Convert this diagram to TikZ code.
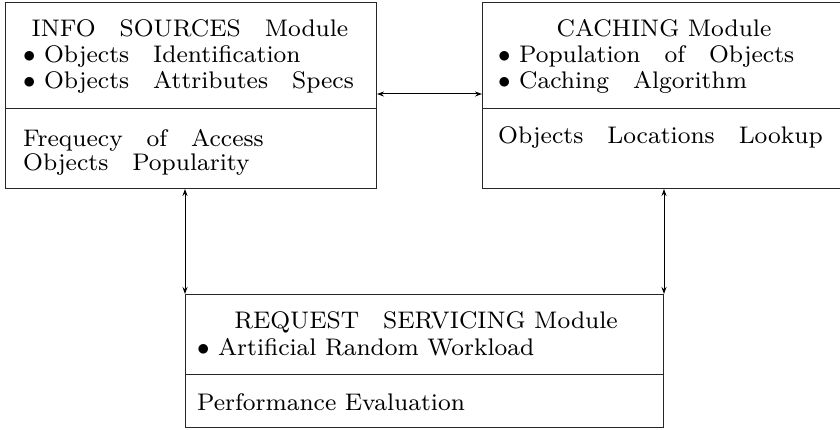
\documentclass[tikz,border=0pt]{standalone}
\usepackage{fontspec}
\usetikzlibrary{arrows.meta}
\newfontfamily\eightrm{lmroman8-regular}[Extension=.otf]
\newcommand{\wsp}{\hspace{1.0em}}
\begin{document}
\begin{tikzpicture}[x=1pt,y=-1pt,
  modbox/.style={draw=black!85,line width=1pt,anchor=north west,inner sep=0pt},
  txt/.style={anchor=base west,inner sep=0pt,font=\eightrm\fontsize{24}{28}\selectfont},
  ctxt/.style={anchor=base,inner sep=0pt,font=\eightrm\fontsize{24}{28}\selectfont},
  arr/.style={line width=1pt,{Stealth[length=7pt,width=5pt]}-{Stealth[length=7pt,width=5pt]}}]
\useasboundingbox (0,0) rectangle (840,430);
\clip (0,0) rectangle (840,430);
\fill[white] (0,0) rectangle (840,430);

% module boxes
\node[modbox,minimum width=371pt,minimum height=186pt] (info) at (5,2) {};
\node[modbox,minimum width=366pt,minimum height=186pt] (cache) at (482,2) {};
\node[modbox,minimum width=478pt,minimum height=133pt] (req) at (185,294) {};

% dividers
\draw[line width=1pt,draw=black!85] ([yshift=-107pt]info.north west) -- ([yshift=-107pt]info.north east);
\draw[line width=1pt,draw=black!85] ([yshift=-107pt]cache.north west) -- ([yshift=-107pt]cache.north east);
\draw[line width=1pt,draw=black!85] ([yshift=-80pt]req.north west) -- ([yshift=-80pt]req.north east);

% INFO SOURCES module text
\node[ctxt] (i1) at (190,37) {INFO\wsp SOURCES\wsp Module};
\node[txt] (i2) at (23,63) {$\bullet$ Objects\wsp Identification};
\node[txt] (i3) at (23,89) {$\bullet$ Objects\wsp Attributes\wsp Specs};
\node[txt] (i4) at (23,147) {Frequecy\wsp of\wsp Access};
\node[txt] (i5) at (23,171) {Objects\wsp Popularity};

% CACHING module text
\node[ctxt] (c1) at (664,37) {CACHING Module};
\node[txt] (c2) at (498,63) {$\bullet$ Population\wsp of\wsp Objects};
\node[txt] (c3) at (498,89) {$\bullet$ Caching\wsp Algorithm};
\node[txt] (c4) at (498,144) {Objects\wsp Locations\wsp Lookup};

% REQUEST SERVICING module text
\node[ctxt] (r1) at (426,328) {REQUEST\wsp SERVICING Module};
\node[txt] (r2) at (197,355) {$\bullet$ Artificial Random Workload};
\node[txt] (r3) at (197,410) {Performance Evaluation};

% connectors
\draw[arr] ([yshift=-92pt]info.north east) -- ([yshift=-92pt]cache.north west);
\draw[arr] (req.north west |- info.south) -- (req.north west);
\draw[arr] (req.north east |- cache.south) -- (req.north east);
\end{tikzpicture}
\end{document}
